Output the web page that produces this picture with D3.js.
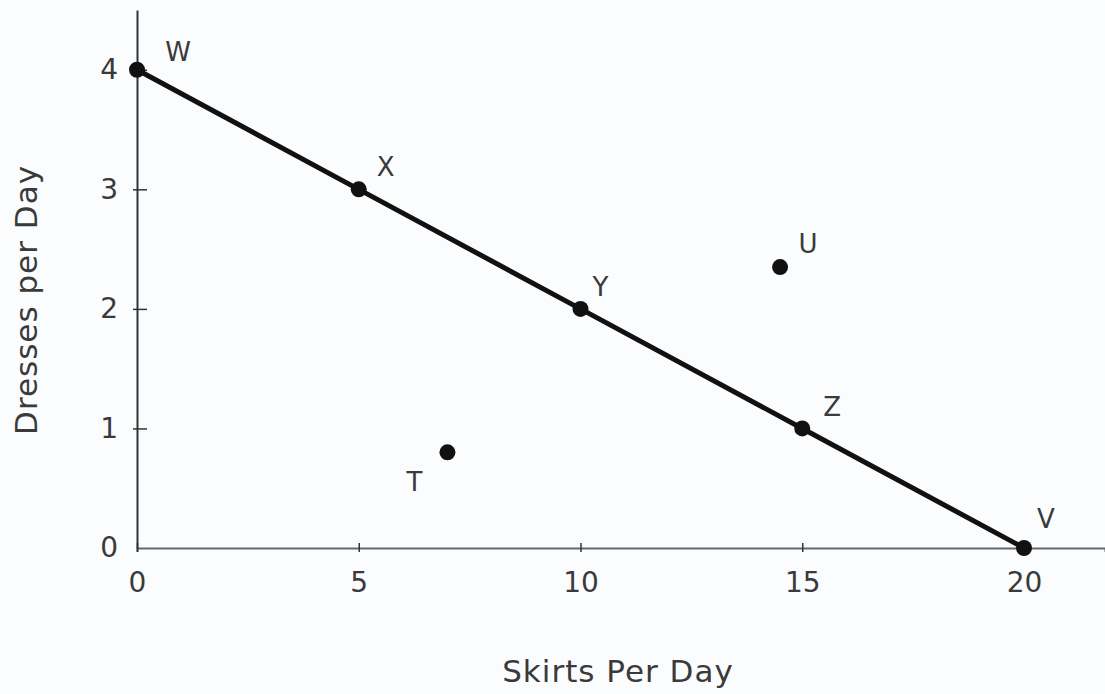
<!DOCTYPE html>
<html>
<head>
<meta charset="utf-8">
<script src="https://cdn.jsdelivr.net/npm/d3@7"></script>
<style>
  body { margin: 0; background: #fbfcfe; }
  text { font-family: "DejaVu Sans", sans-serif; fill: #3a3a3a; }
</style>
</head>
<body>
<script>
// production possibilities: skirts vs dresses
var names = ["W", "X", "Y", "Z", "V", "U", "T"];
var skirts = [0, 5, 10, 15, 20, 14.5, 7];
var dresses = [4, 3, 2, 1, 0, 2.35, 0.8];
var frontier = ["W", "X", "Y", "Z", "V"];
var xTicks = [0, 5, 10, 15, 20];
var yTicks = [0, 1, 2, 3, 4];

// label offsets from the dot (px)
var labelOffset = {
    W: [41, -18], X: [27, -23], Y: [20, -22], Z: [30, -22],
    V: [22, -29], U: [28, -23], T: [-33, 29]
};

var margin = { top: 10, bottom: 146, left: 137, right: 0 };
var width = 1105 - margin.left - margin.right;
var height = 694 - margin.top - margin.bottom;

var points = names.map(function (n, i) {
    return { name: n, x: skirts[i], y: dresses[i] };
});

var svg = d3.select("body")
    .append("svg")
    .attr("width", 1105)
    .attr("height", 694);

var chart = svg.append("g")
    .attr("transform", "translate(" + margin.left + "," + margin.top + ")");

var xScale = d3.scaleLinear()
    .domain([0, 20 * width / 887])
    .range([0, width]);

var yScale = d3.scaleLinear()
    .domain([0, 4.5])
    .range([height, 0]);

// x axis
var xAxis = chart.append("g")
    .attr("transform", "translate(0," + height + ")")
    .call(d3.axisBottom(xScale).tickValues(xTicks).tickFormat(d3.format("d"))
        .tickSize(4).tickPadding(20));
xAxis.select(".domain").attr("stroke", "#666").attr("stroke-width", 2);
xAxis.selectAll(".tick line").attr("y1", -5).attr("stroke", "#333").attr("stroke-width", 1.5);
xAxis.selectAll(".tick text").style("font-size", "28px").attr("fill", "#3a3a3a");

// y axis
var yAxis = chart.append("g")
    .call(d3.axisLeft(yScale).tickValues(yTicks).tickFormat(d3.format("d"))
        .tickSize(-10).tickPadding(19).tickSizeOuter(0));
yAxis.select(".domain").attr("stroke", "#333").attr("stroke-width", 2);
yAxis.selectAll(".tick line").attr("x1", -4).attr("stroke", "#333").attr("stroke-width", 1.5);
yAxis.selectAll(".tick text").style("font-size", "28px").attr("fill", "#3a3a3a");
yAxis.selectAll(".tick").filter(function (d) { return d === 0; }).select("line").remove();

// frontier line
var line = d3.line()
    .x(function (d) { return xScale(d.x); })
    .y(function (d) { return yScale(d.y); });

chart.append("path")
    .datum(points.filter(function (d) { return frontier.indexOf(d.name) >= 0; }))
    .attr("d", line)
    .attr("fill", "none")
    .attr("stroke", "#111")
    .attr("stroke-width", 5);

chart.selectAll("circle")
    .data(points)
    .enter()
    .append("circle")
    .attr("cx", function (d) { return xScale(d.x); })
    .attr("cy", function (d) { return yScale(d.y); })
    .attr("r", 8)
    .attr("fill", "#111");

chart.selectAll(".pt-label")
    .data(points)
    .enter()
    .append("text")
    .attr("class", "pt-label")
    .attr("x", function (d) { return xScale(d.x) + labelOffset[d.name][0]; })
    .attr("y", function (d) { return yScale(d.y) + labelOffset[d.name][1]; })
    .attr("text-anchor", "middle")
    .attr("dy", "0.36em")
    .style("font-size", "26px")
    .text(function (d) { return d.name; });

// axis titles
svg.append("text")
    .attr("x", 618)
    .attr("y", 682)
    .attr("text-anchor", "middle")
    .style("font-size", "31px")
    .style("letter-spacing", "1px")
    .text("Skirts Per Day");

svg.append("text")
    .attr("transform", "translate(37," + 300 + ") rotate(-90)")
    .attr("text-anchor", "middle")
    .style("font-size", "31px")
    .style("letter-spacing", "1px")
    .text("Dresses per Day");
</script>
</body>
</html>
